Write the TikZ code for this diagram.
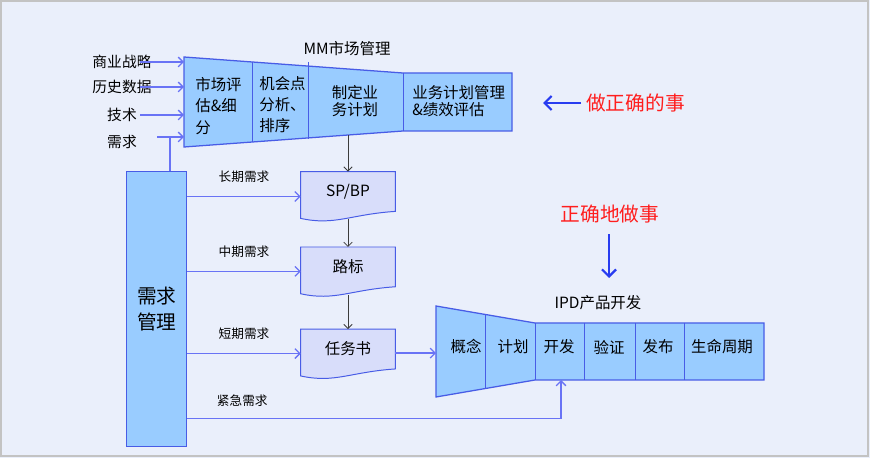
\documentclass[tikz,border=0pt]{standalone}
\usepackage{fontspec}
\setmainfont{Noto Sans CJK SC}
\usetikzlibrary{arrows.meta, positioning, calc, backgrounds}

\definecolor{boxblue}{RGB}{153,204,255}
\definecolor{edgeblue}{RGB}{72,92,230}
\definecolor{lineblue}{RGB}{105,115,245}
\definecolor{docfill}{RGB}{216,221,250}
\definecolor{pagebg}{RGB}{234,239,251}
\definecolor{framegray}{RGB}{195,195,195}
\definecolor{flowgray}{RGB}{60,60,60}
\definecolor{arrowblue}{RGB}{40,60,240}
\definecolor{textred}{RGB}{255,30,30}

\begin{document}
\begin{tikzpicture}[
    x=0.025cm, y=-0.025cm,
    funnel/.style={fill=boxblue, draw=edgeblue, line width=0.9pt},
    divider/.style={draw=edgeblue, line width=0.7pt},
    stagetext/.style={font=\fontsize{11}{15}\selectfont, inner sep=0pt},
    feedtext/.style={font=\fontsize{10.5}{12}\selectfont, inner sep=0pt},
    smalllabel/.style={font=\fontsize{9}{10}\selectfont, inner sep=0pt},
    titletext/.style={font=\fontsize{11}{13}\selectfont, inner sep=0pt},
    redtext/.style={font=\fontsize{14}{16}\selectfont, text=textred, inner sep=0pt},
    reqbox/.style={rectangle, fill=boxblue, draw=edgeblue, line width=0.9pt, minimum width=1.5cm, minimum height=6.875cm, font=\fontsize{14}{18}\selectfont, align=center},
    docbox/.style={rectangle, minimum width=2.35cm, minimum height=0.98cm, font=\fontsize{11}{13}\selectfont, inner sep=0pt},
    docshape/.style={fill=docfill, draw=edgeblue, line width=0.7pt},
    feed/.style={draw=lineblue, line width=0.9pt, -{Straight Barb[length=3.5pt, width=7pt]}},
    feedline/.style={draw=lineblue, line width=0.9pt},
    flow/.style={draw=flowgray, line width=0.6pt, -{Straight Barb[length=3pt, width=6pt]}},
    bigarrow/.style={draw=arrowblue, line width=1.6pt, -{Straight Barb[length=5pt, width=10pt]}}
]
\useasboundingbox (0,0) rectangle (870,458);

% MM Section
\filldraw[funnel] (184,57) -- (403,73) -- (512,73) -- (512,131) -- (403,131) -- (184,147) -- cycle;
\draw[divider] (252,62) -- (252,142);
\draw[divider] (308,62) -- (308,139);
\draw[divider] (403,73) -- (403,131);
\coordinate (mmleft) at (184,100);
\coordinate (mmout) at (348,135);

\node[titletext] (mmtitle) at (347,49) {MM市场管理};
\node[stagetext, anchor=west, align=left] (assess) at (195,106) {市场评\\估\&细\\分};
\node[stagetext, anchor=west, align=left] (chance) at (259,105) {机会点\\分析、\\排序};
\node[stagetext, align=center, font=\fontsize{11}{12}\selectfont] (plan) at (355,101.5) {制定业\\务计划};
\node[stagetext, anchor=west, align=left, font=\fontsize{11}{12}\selectfont] (perf) at (412,101.5) {业务计划管理\\\&绩效评估};

% inputs
\node[feedtext] (strategy) at (122,62) {商业战略};
\node[feedtext] (history) at (122,87) {历史数据};
\node[feedtext] (tech) at (122,115) {技术};
\node[feedtext] (demand) at (122,142) {需求};
\coordinate (reqjoin) at (170,137);
\coordinate (reqstub) at (157,137);

\draw[feed] ($(strategy.east)+(-12,0)$) -- (strategy -| mmleft);
\draw[feed] ($(history.east)+(-12,0)$) -- (history -| mmleft);
\draw[feed] ($(tech.east)+(3,0)$) -- (tech -| mmleft);
\draw[feed] (reqstub) -- (reqstub -| mmleft);

% Requirement Section
\node[reqbox] (reqmgmt) at (156.7,309.2) {需求\\管理};
\draw[feedline] (reqmgmt.north -| reqjoin) -- (reqjoin);

\node[docbox] (spbp) at (348,191.5) {SP/BP};
\node[docbox, below=0.89cm of spbp] (road) {路标};
\node[docbox, below=1.06cm of road] (task) {任务书};

\foreach \doc/\lab/\dy in {spbp/长期需求/5, road/中期需求/4.5, task/短期需求/4.5}{
  \coordinate (\doc-in) at ($(\doc.west)+(0,\dy)$);
  \draw[feed] (reqmgmt.east |- \doc-in) -- (\doc-in) node[smalllabel, midway, above=9.7pt] {\lab};
}

\draw[flow] (mmout) -- (spbp.north);
\draw[flow] ($(spbp.south)+(0,8)$) -- (road.north);
\draw[flow] ($(road.south)+(0,8)$) -- (task.north);

% IPD Section
\filldraw[funnel] (436,306) -- (535,323) -- (764,323) -- (764,380) -- (535,380) -- (436,397) -- cycle;
\draw[divider] (485,314) -- (485,389);
\foreach \x in {535, 584, 635, 684} \draw[divider] (\x,323) -- (\x,380);
\coordinate (ipdleft) at (436,350);
\coordinate (ipdbottom) at (535,380);

\node[titletext] (ipdtitle) at (598,303) {IPD产品开发};
\node[stagetext] (concept) at (466,347) {概念};
\node[stagetext] (iplan) at (513,347) {计划};
\node[stagetext] (develop) at (559,347) {开发};
\node[stagetext] (verify) at (609,347) {验证};
\node[stagetext] (release) at (658,347) {发布};
\node[stagetext] (lifecycle) at (722,347) {生命周期};

\coordinate (taskout) at ($(task.east)+(0,4)$);
\draw[feed] (taskout) -- (taskout -| ipdleft);

\coordinate (urgent) at (561,418.3);
\draw[feed] (reqmgmt.east |- urgent) -- node[smalllabel, pos=0.147, above=8pt] {紧急需求} (urgent) -- (urgent |- ipdbottom);

% red notes
\node[redtext] (doright) at (635.5,103) {做正确的事};
\coordinate (dorighttip) at (543,103);
\draw[bigarrow] ($(doright.west)+(-5,0)$) -- (dorighttip);

\node[redtext] (dothings) at (610,214) {正确地做事};
\coordinate (dothingstip) at (609,278);
\draw[bigarrow] ($(dothings.south)+(-1,11)$) -- (dothingstip);

\begin{scope}[on background layer]
\fill[pagebg] (0,0) rectangle (870,458);
\draw[framegray, line width=1.4pt] (1,1) rectangle (868,456);
\foreach \doc in {spbp, road, task}
  \draw[docshape] ($(\doc.south west)+(0,7)$) -- (\doc.north west) -- (\doc.north east) -- (\doc.south east)
    .. controls +(-45,3) and +(34,7.5) .. ($(\doc.south west)+(0,7)$) -- cycle;
\end{scope}

\end{tikzpicture}
\end{document}
